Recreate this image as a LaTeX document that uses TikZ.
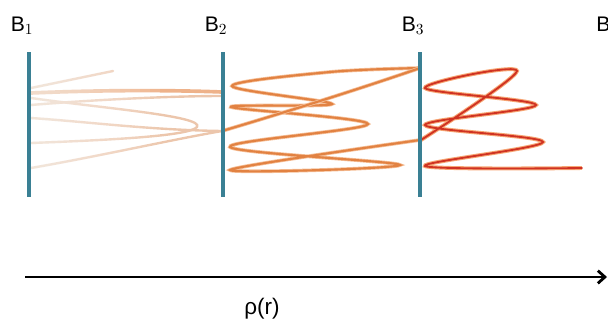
\documentclass[tikz,border=0pt]{standalone}
\usepackage{fontspec}
\setmainfont{Liberation Sans}
\usetikzlibrary{arrows.meta,positioning}
\definecolor{barblue}{RGB}{58,128,148}
\definecolor{palepeach}{RGB}{236,198,172}
\definecolor{peach}{RGB}{238,178,138}
\definecolor{burntorange}{RGB}{226,130,66}
\definecolor{softorange}{RGB}{245,190,150}
\definecolor{brickred}{RGB}{208,50,34}
\definecolor{halo}{RGB}{246,165,115}

\begin{document}
\begin{tikzpicture}[x=0.025cm,y=-0.025cm,
    bar/.style={draw=barblue, line width=2.3pt},
    lbl/.style={font=\fontsize{15}{17}\selectfont, inner sep=0pt},
    faint/.style={draw=palepeach, line width=1.7pt, line cap=round},
    orangeline/.style={draw=burntorange, line width=1.5pt, line cap=round,
        preaction={draw=softorange, line width=2.6pt}},
    redline/.style={draw=brickred, line width=1.3pt, line cap=round,
        preaction={draw=halo, line width=2.8pt}}]
    \clip (0,0) rectangle (608,324);

    % first stage, faint lines leaving B1
    \draw[faint] (31,88) -- (113,71);
    \draw[faint] (31,105) .. controls (90,100) and (170,96) .. (222,96);
    \draw[faint] (31,98) .. controls (100,108) and (205,116) .. (197,127)
        .. controls (190,136) and (110,140) .. (31,143);
    \draw[faint] (31,118) .. controls (90,122) and (150,130) .. (222,131);
    \draw[faint] (31,168) .. controls (100,156) and (170,140) .. (222,131);
    \draw[draw=peach, line width=2.6pt, line cap=round] (31,93) .. controls (100,90) and (170,90) .. (222,92);
    % wash out near B1
    \foreach \i in {0,...,11}
        \fill[white, opacity=0.07] (31,60) rectangle (160-\i*10,185);

    % second stage, B2 to B3
    \draw[orangeline] plot[smooth, tension=0.55] coordinates {(420,68) (330,72) (232,86) (332,104)
        (231,107) (368,124) (230,147) (400,165) (230,170) (420,140)};
    \draw[orangeline] (222,131) .. controls (300,108) and (380,82) .. (420,68);

    % third stage, beyond B3
    \draw[redline] plot[smooth, tension=0.55] coordinates {(421,140) (517,71) (425,88) (536,105)
        (425,125) (543,142) (425,166) (582,168)};

    % barriers
    \foreach \x/\n in {29/1,223/2,420/3} {
        \draw[bar] (\x,52) -- (\x,197);
        \node[lbl] (lb\n) at (\x-7,26) {B$_\n$};
    }
    \node[lbl, anchor=west] (lb4) at (596,26) {B$_4$};

    % density axis
    \coordinate (axstart) at (25,277);
    \coordinate (axend) at (607,277);
    \draw[line width=2pt, -{Straight Barb[length=5pt,width=9pt]}] (axstart) -- (axend);
    \node[lbl, font=\fontsize{16}{18}\selectfont] (rho) at (262,309) {ρ(r)};
\end{tikzpicture}
\end{document}
